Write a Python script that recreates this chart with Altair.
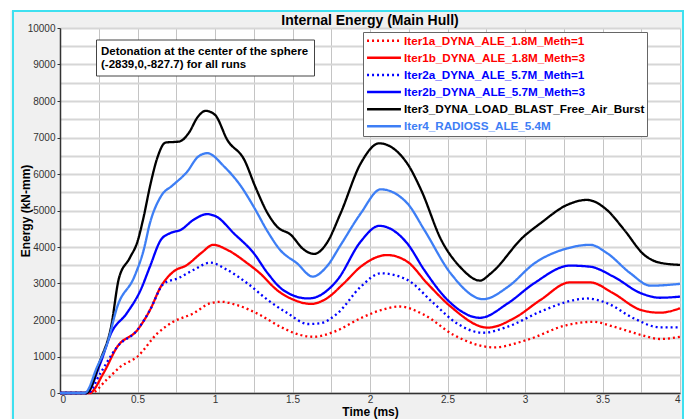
import altair as alt
import pandas as pd

title_text = "Internal Energy (Main Hull)"
x_title = "Time (ms)"
y_title = "Energy (kN-mm)"
annotation_lines = ["Detonation at the center of the sphere", "(-2839,0,-827.7) for all runs"]

series_names = [
    "Iter1a_DYNA_ALE_1.8M_Meth=1",
    "Iter1b_DYNA_ALE_1.8M_Meth=3",
    "Iter2a_DYNA_ALE_5.7M_Meth=1",
    "Iter2b_DYNA_ALE_5.7M_Meth=3",
    "Iter3_DYNA_LOAD_BLAST_Free_Air_Burst",
    "Iter4_RADIOSS_ALE_5.4M",
]
series_colors = ["#ff0000", "#ff0000", "#0000ff", "#0000ff", "#000000", "#3d7ef5"]
series_dashes = [[2, 3], [1, 0], [2, 3], [1, 0], [1, 0], [1, 0]]

t_1a = [0, 0.2, 0.3, 0.39, 0.5, 0.63, 0.73, 0.86, 0.97, 1.04, 1.14, 1.29, 1.42, 1.55, 1.64, 1.77,
        1.94, 2.07, 2.19, 2.35, 2.54, 2.8, 3.01, 3.27, 3.44, 3.57, 3.75, 3.87, 4.0]
e_1a = [0, 0, 360, 720, 1000, 1640, 1950, 2180, 2460, 2500, 2410, 2140, 1820, 1590, 1540, 1680,
        2050, 2270, 2370, 2140, 1590, 1250, 1450, 1860, 1950, 1820, 1590, 1480, 1540]

t_1b = [0, 0.19, 0.28, 0.37, 0.5, 0.58, 0.65, 0.73, 0.82, 0.91, 0.99, 1.08, 1.21, 1.29, 1.4, 1.51,
        1.62, 1.72, 1.83, 1.94, 2.11, 2.24, 2.37, 2.52, 2.76, 2.93, 3.1, 3.29, 3.42, 3.57, 3.75, 3.87, 4.0]
e_1b = [0, 0, 540, 1270, 1730, 2270, 2910, 3320, 3510, 3830, 4060, 3920, 3550, 3280, 2820, 2550,
        2440, 2590, 3000, 3460, 3780, 3600, 3000, 2370, 1790, 2050, 2550, 3030, 3030, 2730, 2270, 2200, 2320]

t_2a = [0, 0.18, 0.26, 0.37, 0.5, 0.58, 0.67, 0.76, 0.86, 0.97, 1.08, 1.21, 1.34, 1.47, 1.6, 1.68,
        1.79, 1.94, 2.07, 2.24, 2.41, 2.56, 2.73, 2.89, 3.1, 3.32, 3.4, 3.53, 3.7, 3.87, 4.0]
e_2a = [0, 0, 540, 1270, 1730, 2270, 3000, 3140, 3370, 3570, 3370, 3000, 2550, 2180, 1890, 1910,
        2180, 2910, 3280, 3100, 2460, 1910, 1650, 1820, 2230, 2550, 2590, 2460, 2050, 1800, 1800]

t_2b = [0, 0.17, 0.26, 0.33, 0.43, 0.52, 0.58, 0.65, 0.71, 0.78, 0.86, 0.95, 1.01, 1.12, 1.25, 1.34,
        1.44, 1.6, 1.66, 1.79, 1.94, 2.06, 2.24, 2.35, 2.5, 2.71, 2.89, 3.06, 3.29, 3.42, 3.57, 3.75, 3.87, 4.0]
e_2b = [0, 0, 810, 1640, 2180, 2820, 3460, 4190, 4380, 4470, 4740, 4900, 4830, 4380, 3830, 3280,
        2820, 2590, 2640, 3100, 4150, 4580, 4100, 3370, 2550, 2060, 2460, 3010, 3490, 3460, 3190, 2730, 2610, 2640]

t_3 = [0, 0.17, 0.26, 0.33, 0.38, 0.45, 0.5, 0.54, 0.58, 0.63, 0.68, 0.77, 0.83, 0.89, 0.94, 1.0,
       1.08, 1.19, 1.26, 1.34, 1.4, 1.49, 1.57, 1.64, 1.72, 1.81, 1.94, 2.06, 2.24, 2.33, 2.46, 2.58,
       2.71, 2.78, 2.99, 3.1, 3.27, 3.4, 3.53, 3.64, 3.77, 3.87, 4.0]
e_3 = [0, 0, 900, 1820, 3140, 3700, 4150, 4830, 5650, 6470, 6860, 6890, 7120, 7570, 7730, 7620,
       6930, 6380, 5650, 4920, 4560, 4330, 3940, 3810, 4100, 4920, 6290, 6840, 6290, 5560, 4190, 3460,
       3080, 3280, 4280, 4650, 5150, 5290, 5010, 4470, 3780, 3570, 3510]

t_4 = [0, 0.16, 0.24, 0.305, 0.37, 0.48, 0.54, 0.58, 0.65, 0.73, 0.82, 0.89, 0.95, 1.06, 1.17, 1.25,
       1.34, 1.42, 1.53, 1.63, 1.72, 1.81, 1.94, 2.07, 2.24, 2.35, 2.52, 2.73, 2.89, 3.06, 3.27, 3.42,
       3.53, 3.68, 3.81, 4.0]
e_4 = [0, 0, 720, 1360, 2370, 3190, 3920, 4650, 5380, 5700, 6060, 6470, 6570, 6200, 5650, 5100,
       4420, 3920, 3550, 3190, 3460, 4050, 4920, 5580, 5200, 4470, 3280, 2570, 2910, 3550, 3960, 4060,
       3830, 3280, 2940, 2990]

all_t = [t_1a, t_1b, t_2a, t_2b, t_3, t_4]
all_e = [e_1a, e_1b, e_2a, e_2b, e_3, e_4]

rows = []
for name, ts, es in zip(series_names, all_t, all_e):
    for t, e in zip(ts, es):
        rows.append({"series": name, "t": t, "E": e})
df = pd.DataFrame(rows)

FONT = "Liberation Sans"
W, H = 620, 365

x_values = [i * 0.25 for i in range(17)]
y_values = list(range(0, 10001, 500))

legend = alt.Legend(
    title=None, orient="none", legendX=303, legendY=4,
    fillColor="white", strokeColor="#666666", padding=2.5,
    labelFont=FONT, labelFontSize=11.7, labelFontWeight="bold",
    labelColor=alt.ExprRef(expr="scale('color', datum.value)"),
    symbolType="stroke", symbolSize=1150, symbolStrokeWidth=2.5,
    clipHeight=12.5, rowPadding=4.1, labelLimit=400, labelOffset=1.5,
)

lines = alt.Chart(df).mark_line(strokeWidth=2.3, interpolate="monotone").encode(
    x=alt.X("t:Q", scale=alt.Scale(domain=[0, 4], nice=False),
            axis=alt.Axis(values=x_values, title=x_title,
                          labelExpr="datum.value % 0.5 == 0 ? format(datum.value, '~g') : ''",
                          ticks=False, gridColor="#c4c4c4", gridWidth=1,
                          labelPadding=1, titlePadding=2)),
    y=alt.Y("E:Q", scale=alt.Scale(domain=[0, 10000], nice=False),
            axis=alt.Axis(values=y_values, title=y_title, format="d",
                          labelExpr="datum.value % 1000 == 0 ? datum.label : ''",
                          tickSize=3,
                          tickOpacity={"condition": {"test": "datum.value % 1000 == 0", "value": 1}, "value": 0},
                          gridColor="#d6d6d6", gridWidth=2,
                          labelPadding=2, titlePadding=-5)),
    color=alt.Color("series:N", scale=alt.Scale(domain=series_names, range=series_colors), legend=legend),
    strokeDash=alt.StrokeDash("series:N", scale=alt.Scale(domain=series_names, range=series_dashes), legend=legend),
)

one = pd.DataFrame({"k": [0]})

outer = alt.Chart(one).mark_rect(fillOpacity=0, stroke="white", strokeWidth=21).encode(
    x=alt.value(-60), x2=alt.value(634), y=alt.value(-28), y2=alt.value(440)
)
frame = alt.Chart(one).mark_rect(fillOpacity=0, stroke="#3ee0f0", strokeWidth=2).encode(
    x=alt.value(-47), x2=alt.value(623), y=alt.value(-17), y2=alt.value(420)
)

note_box = alt.Chart(one).mark_rect(fill="white", stroke="#444444", strokeWidth=1).encode(
    x=alt.value(36.5), x2=alt.value(254.5), y=alt.value(12), y2=alt.value(48)
)
note_text = alt.Chart(one).mark_text(
    align="left", baseline="alphabetic", font=FONT, fontSize=11.5, fontWeight="bold",
    color="black", lineHeight=13
).encode(x=alt.value(41), y=alt.value(26.5), text=alt.value(annotation_lines))

chart = alt.layer(outer, frame, lines, note_box, note_text).properties(
    width=W, height=H,
    autosize=alt.AutoSizeParams(type="none"),
    padding={"left": 60, "top": 28, "right": 7, "bottom": 26},
    background="#f0f0f0",
    title=alt.TitleParams(title_text, font=FONT, fontSize=14, fontWeight="bold",
                          color="black", anchor="middle", offset=-38.5),
).configure_view(fill="white", stroke=None).configure_axis(
    labelFont=FONT, labelFontSize=10, labelColor="#333333",
    titleFont=FONT, titleFontSize=12, titleFontWeight="bold", titleColor="black",
    domainColor="#333333", domainWidth=1.5, tickColor="#333333",
)

chart.save("out.html", embed_options={"renderer": "svg", "actions": False})
